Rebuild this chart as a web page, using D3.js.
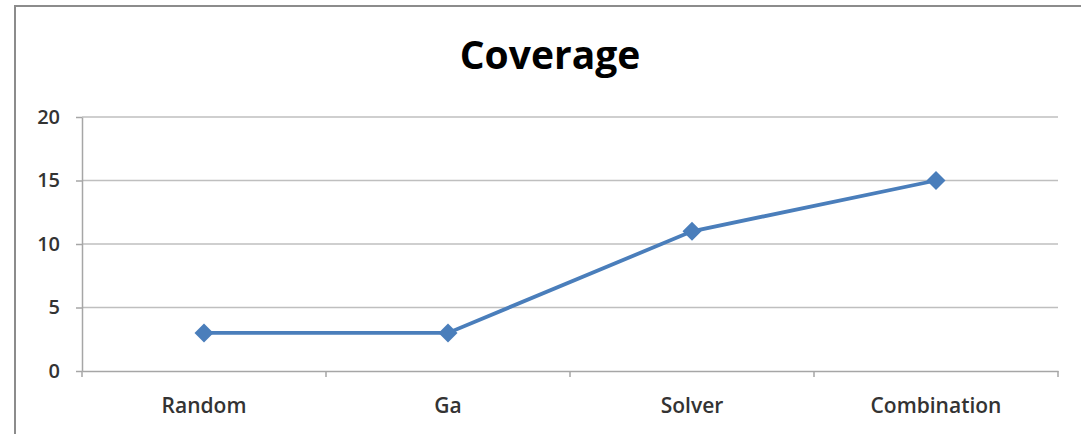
<!DOCTYPE html>
<html lang="en">
<head>
    <meta charset="UTF-8">
    <title>Coverage</title>
    <script src="https://d3js.org/d3.v7.min.js"></script>
    <style>
        body { margin: 0; background: #fff; }
        text { font-family: "Open Sans", "Noto Sans", sans-serif; }
    </style>
</head>
<body>
    <script>
        // data
        const categories = ["Random", "Ga", "Solver", "Combination"];
        const coverage = [3, 3, 11, 15];
        const yTicks = [0, 5, 10, 15, 20];

        const width = 1081, height = 434;
        const plot = { left: 82, right: 1058, top: 117, bottom: 371 };

        const svg = d3.select("body").append("svg")
            .attr("width", width)
            .attr("height", height);

        svg.append("rect").attr("width", width).attr("height", height).attr("fill", "#fff");

        // outer chart border (only left + top show in the picture)
        svg.append("path")
            .attr("d", `M15,${height} L15,6 L${width},6`)
            .attr("fill", "none")
            .attr("stroke", "#8c8c8c")
            .attr("stroke-width", 2);

        const x = d3.scaleBand().domain(categories).range([plot.left, plot.right]);
        const y = d3.scaleLinear().domain([0, 20]).range([plot.bottom, plot.top]);

        // gridlines
        svg.append("g")
            .selectAll("line")
            .data(yTicks.filter(d => d > 0))
            .enter().append("line")
            .attr("x1", plot.left)
            .attr("x2", plot.right)
            .attr("y1", d => y(d))
            .attr("y2", d => y(d))
            .attr("stroke", "#bfbfbf")
            .attr("stroke-width", 1.5);

        // y axis
        const yAxis = svg.append("g")
            .attr("transform", `translate(${plot.left},0)`)
            .call(d3.axisLeft(y).tickValues(yTicks).tickSize(6).tickPadding(16).tickSizeOuter(0));
        yAxis.select(".domain").attr("stroke", "#a6a6a6").attr("stroke-width", 1.5);
        yAxis.selectAll(".tick line").attr("stroke", "#a6a6a6").attr("stroke-width", 1.5);
        yAxis.selectAll("text")
            .attr("fill", "#333")
            .style("font-size", "20px")
            .style("font-weight", "600");

        // x axis with ticks between categories
        const xAxis = svg.append("g")
            .attr("transform", `translate(0,${plot.bottom})`)
            .call(d3.axisBottom(x).tickSize(0).tickPadding(27));
        xAxis.select(".domain").attr("stroke", "#a6a6a6").attr("stroke-width", 1.5);
        xAxis.selectAll("text")
            .attr("fill", "#333")
            .style("font-size", "21px")
            .style("font-weight", "600");
        xAxis.selectAll(".sep")
            .data(categories.map(d => x(d)).concat([plot.right]))
            .enter().append("line")
            .attr("x1", d => d).attr("x2", d => d)
            .attr("y1", 0).attr("y2", 6)
            .attr("stroke", "#a6a6a6")
            .attr("stroke-width", 1.5);

        // series line
        const cx = (d, i) => x(categories[i]) + x.bandwidth() / 2;
        const line = d3.line()
            .x((d, i) => cx(d, i))
            .y(d => y(d));

        svg.append("path")
            .datum(coverage)
            .attr("d", line)
            .attr("fill", "none")
            .attr("stroke", "#4a7ebb")
            .attr("stroke-width", 3.8);

        const diamond = d3.symbol().type(d3.symbolDiamond2).size(230);
        svg.selectAll(".pt")
            .data(coverage)
            .enter().append("path")
            .attr("class", "pt")
            .attr("d", diamond)
            .attr("transform", (d, i) => `translate(${cx(d, i)},${y(d)})`)
            .attr("fill", "#4a7ebb");

        // title
        svg.append("text")
            .attr("x", 550)
            .attr("y", 69)
            .attr("text-anchor", "middle")
            .attr("fill", "#000")
            .style("font-size", "39px")
            .style("font-weight", "bold")
            .text("Coverage");
    </script>
</body>
</html>
